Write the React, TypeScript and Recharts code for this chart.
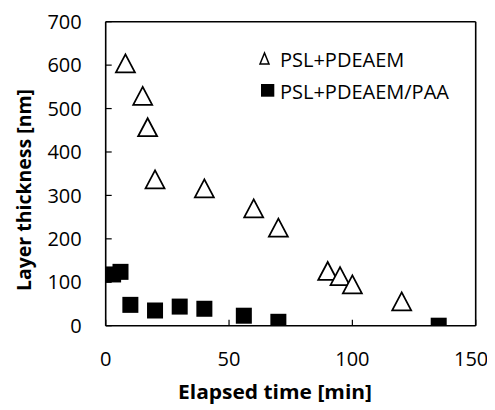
import React from 'react';
import { ScatterChart, Scatter, XAxis, YAxis, ReferenceLine, Legend, Label } from 'recharts';

const pdeaemTime = [8, 15, 17, 20, 40, 60, 70, 90, 95, 100, 120];
const pdeaemThickness = [604, 529, 457, 337, 316, 270, 226, 126, 114, 95, 56];
const paaTime = [3, 6, 10, 20, 30, 40, 56, 70, 135];
const paaThickness = [118, 124, 48, 35, 44, 39, 23, 9, 0];
const xTicks = [0, 50, 100, 150];
const yTicks = [0, 100, 200, 300, 400, 500, 600, 700];
const seriesNames = ['PSL+PDEAEM', 'PSL+PDEAEM/PAA'];
const xTitle = 'Elapsed time [min]';
const yTitle = 'Layer thickness [nm]';

const FONT = '"Open Sans", sans-serif';

const pdeaemData = pdeaemTime.map((x, i) => ({ x, y: pdeaemThickness[i] }));
const paaData = paaTime.map((x, i) => ({ x, y: paaThickness[i] }));

const Triangle = (props: any) => {
  const { cx, cy } = props;
  if (cx == null || cy == null) return null;
  return (
    <polygon
      points={`${cx},${cy - 9} ${cx - 9.5},${cy + 9} ${cx + 9.5},${cy + 9}`}
      fill="#fff"
      stroke="#000"
      strokeWidth={1.75}
    />
  );
};

const Square = (props: any) => {
  const { cx, cy } = props;
  if (cx == null || cy == null) return null;
  return <rect x={cx - 8} y={cy - 8} width={16} height={16} fill="#000" />;
};

// X tick label kept inside the chart's right edge (as in the source figure)
const XTick = (props: any) => {
  const { x, y, payload } = props;
  const label = String(payload.value);
  const half = (label.length * 11.44) / 2;
  const maxRight = 480.3;
  const cx = Math.min(x, maxRight - half);
  return (
    <text x={cx} y={y} textAnchor="middle" dominantBaseline="hanging" fontFamily={FONT} fontSize={20} fill="#000" dy={-2}>
      {label}
    </text>
  );
};

const LegendContent = () => (
  <div style={{ position: 'absolute', left: 0, top: 0, width: 0, height: 0 }}>
    <svg style={{ position: 'absolute', left: 250, top: 43, overflow: 'visible' }} width={14} height={14}>
      <polygon points="6.5,2 2,13 11,13" fill="#fff" stroke="#000" strokeWidth={1.5} />
    </svg>
    <div style={{ position: 'absolute', left: 272, top: 42, fontFamily: FONT, fontSize: 20, lineHeight: '20px', whiteSpace: 'nowrap', color: '#000' }}>
      {seriesNames[0]}
    </div>
    <svg style={{ position: 'absolute', left: 252.7, top: 76, overflow: 'visible' }} width={14} height={14}>
      <rect x={0} y={0} width={13.3} height={12.7} fill="#000" />
    </svg>
    <div style={{ position: 'absolute', left: 272, top: 73.5, fontFamily: FONT, fontSize: 20, lineHeight: '20px', whiteSpace: 'nowrap', color: '#000' }}>
      {seriesNames[1]}
    </div>
  </div>
);

export default function App() {
  return (
    <ScatterChart
      width={487}
      height={402}
      margin={{ top: 13.7, right: 19.3, left: 37.7, bottom: 24.3 }}
    >
      <XAxis
        type="number"
        dataKey="x"
        domain={[0, 150]}
        ticks={xTicks}
        allowDataOverflow
        height={60}
        tickSize={-6}
        tickMargin={32}
        axisLine={{ stroke: '#000', strokeWidth: 1.6 }}
        tickLine={{ stroke: '#000', strokeWidth: 1.2 }}
        tick={<XTick />}
      >
        <Label
          content={() => (
            <text x={267} y={383.5} textAnchor="middle" dominantBaseline="central" fontFamily={FONT} fontSize={20} fontWeight="bold" fill="#000" textLength={194} lengthAdjust="spacingAndGlyphs">
              {xTitle}
            </text>
          )}
        />
      </XAxis>
      <YAxis
        type="number"
        dataKey="y"
        domain={[0, 700]}
        ticks={yTicks}
        allowDataOverflow
        width={60}
        tickSize={-6}
        tickMargin={30}
        axisLine={{ stroke: '#000', strokeWidth: 1.6 }}
        tickLine={{ stroke: '#000', strokeWidth: 1.2 }}
        tick={{ fill: '#000', fontSize: 20, fontFamily: FONT }}
      >
        <Label
          content={() => (
            <text x={15} y={182} transform="rotate(-90 15 182)" textAnchor="middle" dominantBaseline="central" fontFamily={FONT} fontSize={20} fontWeight="bold" fill="#000" textLength={202} lengthAdjust="spacingAndGlyphs">
              {yTitle}
            </text>
          )}
        />
      </YAxis>
      <ReferenceLine y={700} stroke="#000" strokeWidth={1.6} ifOverflow="visible" />
      <ReferenceLine x={150} stroke="#000" strokeWidth={1.6} ifOverflow="visible" />
      <Legend
        wrapperStyle={{ position: 'absolute', left: 0, top: 0, width: 0, height: 0 }}
        content={<LegendContent />}
      />
      <Scatter name={seriesNames[0]} data={pdeaemData} shape={<Triangle />} isAnimationActive={false} />
      <Scatter name={seriesNames[1]} data={paaData} shape={<Square />} isAnimationActive={false} />
    </ScatterChart>
  );
}
